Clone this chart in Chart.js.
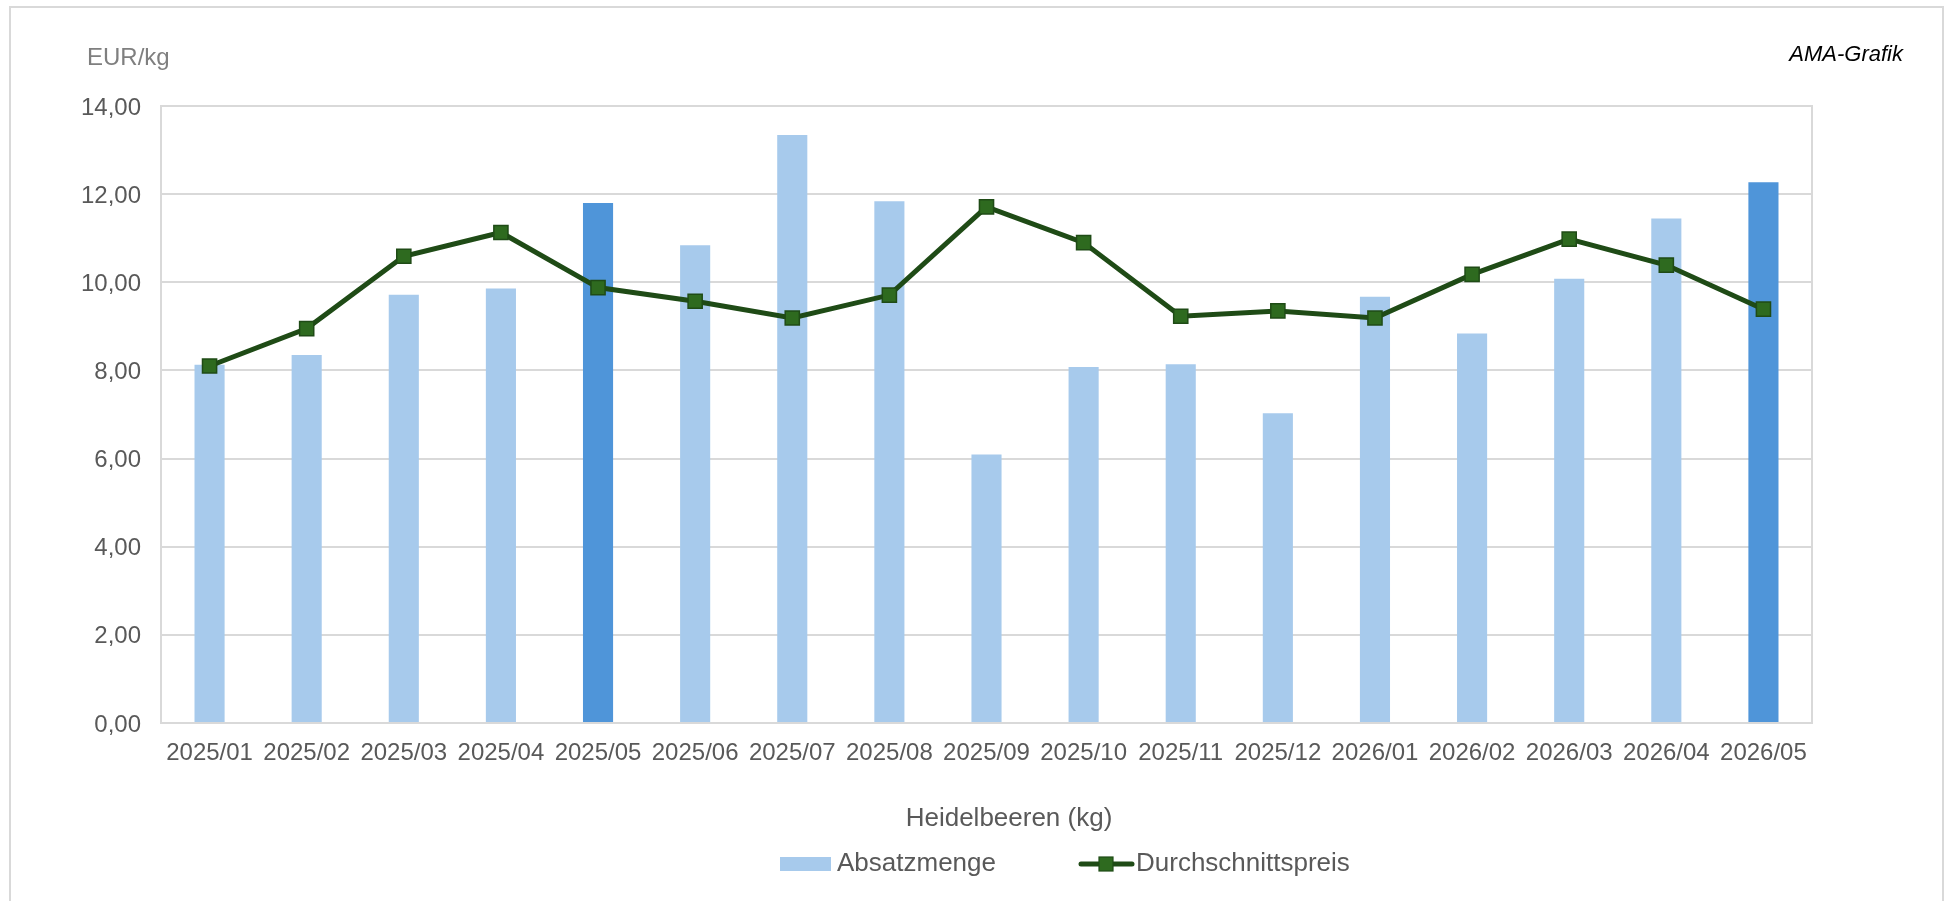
<!DOCTYPE html>
<html>
<head>
<meta charset="utf-8">
<script src="https://cdn.jsdelivr.net/npm/chart.js@4/dist/chart.umd.min.js"></script>
<style>
  html, body { margin: 0; padding: 0; background: #ffffff; }
  #wrap { width: 1945px; height: 901px; position: relative; }
</style>
</head>
<body>
<div id="wrap"><canvas id="c" width="1945" height="901"></canvas></div>
<script>
// ---- data ----
const categories = ['2025/01','2025/02','2025/03','2025/04','2025/05','2025/06','2025/07','2025/08','2025/09','2025/10','2025/11','2025/12','2026/01','2026/02','2026/03','2026/04','2026/05'];
const absatzmenge = [8.13, 8.35, 9.72, 9.86, 11.80, 10.84, 13.34, 11.84, 6.09, 8.08, 8.14, 7.03, 9.67, 8.84, 10.08, 11.45, 12.27];
const durchschnittspreis = [8.10, 8.95, 10.59, 11.13, 9.88, 9.57, 9.19, 9.71, 11.71, 10.90, 9.23, 9.35, 9.19, 10.18, 10.98, 10.39, 9.39];
const highlightMonths = ['2025/05', '2026/05'];
const yTicks = [0, 2, 4, 6, 8, 10, 12, 14];
const unitLabel = 'EUR/kg';
const sourceLabel = 'AMA-Grafik';
const productLabel = 'Heidelbeeren (kg)';
const seriesNames = ['Absatzmenge', 'Durchschnittspreis'];

// ---- styles ----
const FONT = '"Liberation Sans", Arial, sans-serif';
const BAR_LIGHT = '#A7CAEC';
const BAR_DARK = '#4F95D9';
const LINE_COLOR = '#1F4B16';
const MARKER_FILL = '#2E6A1F';
const GRID = '#D9D9D9';
const TEXT = '#595959';

const barColors = categories.map(c => highlightMonths.includes(c) ? BAR_DARK : BAR_LIGHT);

const decor = {
  id: 'decor',
  beforeDatasetsDraw(chart) {
    const ctx = chart.ctx, a = chart.chartArea;
    ctx.save();
    ctx.strokeStyle = GRID;
    ctx.lineWidth = 2;
    ctx.strokeRect(a.left, a.top, a.right - a.left, a.bottom - a.top);
    ctx.restore();
  },
  afterDraw(chart) {
    const ctx = chart.ctx;
    ctx.save();
    // outer border
    ctx.strokeStyle = GRID;
    ctx.lineWidth = 2;
    ctx.strokeRect(10, 7, 1933, 1000);
    // unit label
    ctx.fillStyle = '#7F7F7F';
    ctx.font = '24px ' + FONT;
    ctx.textAlign = 'left';
    ctx.textBaseline = 'middle';
    ctx.fillText(unitLabel, 87, 58);
    // source
    ctx.fillStyle = '#000000';
    ctx.font = 'italic 22px ' + FONT;
    ctx.textAlign = 'right';
    ctx.fillText(sourceLabel, 1903, 55);
    // product title
    ctx.fillStyle = TEXT;
    ctx.font = '26px ' + FONT;
    ctx.textAlign = 'center';
    ctx.fillText(productLabel, 1009, 819);
    // legend
    ctx.textAlign = 'left';
    ctx.fillStyle = BAR_LIGHT;
    ctx.fillRect(780, 857, 51, 14);
    ctx.fillStyle = TEXT;
    ctx.fillText(seriesNames[0], 837, 864);
    ctx.strokeStyle = LINE_COLOR;
    ctx.lineWidth = 5;
    ctx.lineCap = 'round';
    ctx.beginPath();
    ctx.moveTo(1081, 864);
    ctx.lineTo(1132, 864);
    ctx.stroke();
    ctx.fillStyle = MARKER_FILL;
    ctx.fillRect(1099, 857, 14, 14);
    ctx.lineWidth = 1.2;
    ctx.strokeRect(1099, 857, 14, 14);
    ctx.fillStyle = TEXT;
    ctx.fillText(seriesNames[1], 1136, 864);
    ctx.restore();
  }
};

new Chart(document.getElementById('c'), {
  type: 'bar',
  data: {
    labels: categories,
    datasets: [
      {
        type: 'line',
        label: seriesNames[1],
        data: durchschnittspreis,
        borderColor: LINE_COLOR,
        borderWidth: 5,
        pointStyle: 'rect',
        pointRadius: 10,
        pointBackgroundColor: MARKER_FILL,
        pointBorderColor: LINE_COLOR,
        pointBorderWidth: 1.5,
        tension: 0,
        order: 0
      },
      {
        type: 'bar',
        label: seriesNames[0],
        data: absatzmenge,
        backgroundColor: barColors,
        borderWidth: 0,
        barPercentage: 0.31,
        categoryPercentage: 1.0,
        order: 1
      }
    ]
  },
  options: {
    responsive: false,
    devicePixelRatio: 1,
    animation: false,
    layout: { padding: { top: 106, left: 0, right: 133, bottom: 118 } },
    plugins: {
      legend: { display: false },
      tooltip: { enabled: false },
      title: { display: false }
    },
    scales: {
      x: {
        offset: true,
        grid: { display: false, drawTicks: false },
        border: { display: false },
        ticks: { color: TEXT, font: { family: FONT, size: 24 }, padding: 16, maxRotation: 0, autoSkip: false },
        afterFit(s) { s.height = 60; }
      },
      y: {
        min: 0,
        max: 14,
        afterBuildTicks(s) { s.ticks = yTicks.map(v => ({ value: v })); },
        grid: { color: GRID, lineWidth: 2, drawTicks: false },
        border: { display: false },
        ticks: {
          color: TEXT,
          font: { family: FONT, size: 24 },
          padding: 20,
          labelOffset: 2,
          callback: v => Number(v).toFixed(2).replace('.', ',')
        },
        afterFit(s) { s.width = 161; }
      }
    }
  },
  plugins: [decor]
});
</script>
</body>
</html>
